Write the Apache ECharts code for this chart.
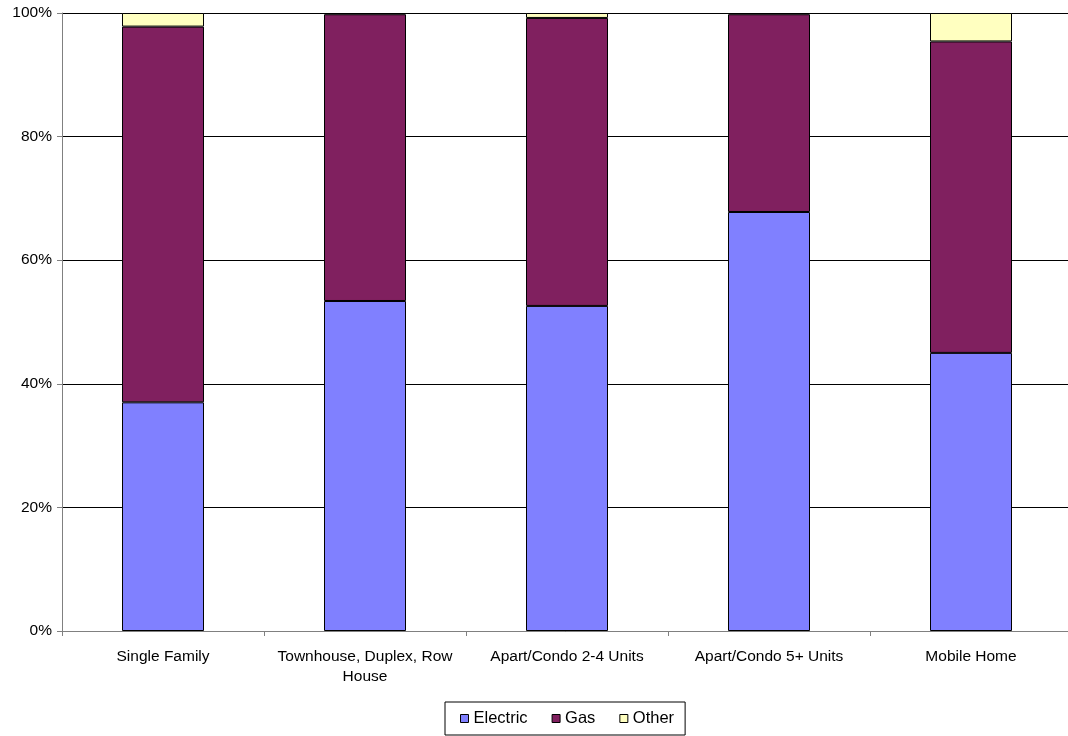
<!DOCTYPE html>
<html><head><meta charset="utf-8">
<script src="https://cdn.jsdelivr.net/npm/echarts@6/dist/echarts.min.js"></script>
<style>html,body{margin:0;padding:0;background:#fff}#c{width:1068px;height:736px}</style>
</head><body><div id="c"></div>
<script>
const categories = ['Single Family', 'Townhouse, Duplex, Row\nHouse', 'Apart/Condo 2-4 Units', 'Apart/Condo 5+ Units', 'Mobile Home'];
const electric = [37.0, 53.4, 52.6, 67.8, 45.0];
const gas = [60.8, 46.4, 46.6, 32.0, 50.4];
const other = [2.2, 0.2, 0.8, 0.2, 4.6];
const yTicks = [0, 20, 40, 60, 80, 100];

const chart = echarts.init(document.getElementById('c'));
const font = 'Liberation Sans, Arial, sans-serif';
function mk(name, data, color) {
  return { name, type: 'bar', stack: 'all', data, barWidth: 82,
    itemStyle: { color, borderColor: '#000', borderWidth: 1 } };
}
chart.setOption({
  animation: false,
  grid: { left: 62, width: 1010, top: 13, bottom: 105, outerBoundsMode: 'none' },
  xAxis: {
    type: 'category', data: categories,
    axisLine: { lineStyle: { color: '#808080' } },
    axisTick: { show: true, length: 5, interval: 0, lineStyle: { color: '#808080' } },
    axisLabel: { color: '#000', fontSize: 15.5, fontFamily: font, margin: 16, lineHeight: 20, interval: 0 }
  },
  yAxis: {
    type: 'value', min: 0, max: 100, interval: 20,
    axisLine: { show: true, lineStyle: { color: '#808080' } },
    axisTick: { show: true, length: 5, lineStyle: { color: '#808080' } },
    splitLine: { lineStyle: { color: '#000', width: 1 } },
    axisLabel: { color: '#000', fontSize: 15.5, fontFamily: font, margin: 10,
      formatter: v => yTicks.includes(v) ? v + '%' : '' }
  },
  legend: {
    bottom: 1, left: 445,
    data: ['Electric', 'Gas', 'Other'],
    icon: 'rect', itemWidth: 8, itemHeight: 8, itemGap: 24,
    borderColor: '#000', borderWidth: 1, padding: [8, 11, 8, 15],
    textStyle: { color: '#000', fontSize: 16.5, fontFamily: font },
    itemStyle: { borderColor: '#000', borderWidth: 1 }
  },
  series: [
    mk('Electric', electric, '#8080FF'),
    mk('Gas', gas, '#80205F'),
    mk('Other', other, '#FFFFC0')
  ]
});
</script></body></html>
